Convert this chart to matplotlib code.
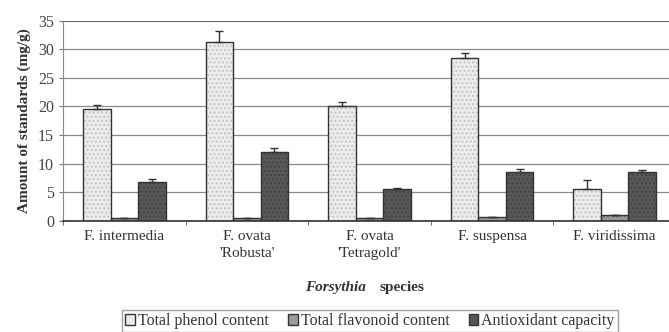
import numpy as np
import matplotlib.pyplot as plt
from matplotlib.patches import Patch

plt.rcParams['font.family'] = ['Liberation Serif', 'DejaVu Serif']

species = ["F. intermedia", "F. ovata\n'Robusta'", "F. ovata\n'Tetragold'",
           "F. suspensa", "F. viridissima"]
phenol = [19.5, 31.2, 20.0, 28.5, 5.5]
phenol_err = [0.7, 2.0, 0.7, 0.8, 1.6]
flavonoid = [0.4, 0.5, 0.5, 0.6, 1.0]
flavonoid_err = [0.0, 0.0, 0.0, 0.0, 0.0]
antiox = [6.8, 12.0, 5.5, 8.6, 8.5]
antiox_err = [0.5, 0.7, 0.15, 0.4, 0.3]

series = [
    ("Total phenol content", phenol, phenol_err, '#ececec', '#c4c4c4'),
    ("Total flavonoid content", flavonoid, flavonoid_err, '#9a9a9a', '#7a7a7a'),
    ("Antioxidant capacity", antiox, antiox_err, '#585858', '#444444'),
]

fig = plt.figure(figsize=(6.69, 3.32), dpi=100)
ax = fig.add_axes([63 / 669, 1 - 220.7 / 332, 613 / 669, 200 / 332])

x = np.arange(len(species))
w = 0.225
for i, (name, vals, err, fc, hc) in enumerate(series):
    pos = x + (i - 1) * w
    ax.bar(pos, vals, w, color=fc, edgecolor=hc, hatch='....', linewidth=0, zorder=2)
    ax.bar(pos, vals, w, fill=False, edgecolor='#333333', linewidth=1.0, zorder=3)
    ax.errorbar(pos, vals, yerr=[np.zeros(len(vals)), err], fmt='none',
                ecolor='#333333', elinewidth=1.0, capsize=3, capthick=1.0, zorder=4)

ax.set_xlim(-0.5, len(species) - 0.5)
ax.set_ylim(0, 35)
ax.set_yticks(range(0, 36, 5))
ax.yaxis.grid(True, color='#8a8a8a', linewidth=0.9)
ax.set_axisbelow(True)
ax.axhline(35, color='#666666', linewidth=1.2, zorder=1)

ax.set_xticks(x)
ax.set_xticklabels(species, fontsize=11, color='#333333', linespacing=1.4)
ax.set_xticks(np.arange(len(species) + 1) - 0.5, minor=True)
ax.tick_params(axis='x', which='major', length=0, pad=7)
ax.tick_params(axis='x', which='minor', length=3, color='#555555')
ax.tick_params(axis='y', length=3, labelsize=11.5, labelcolor='#444444', color='#777777')

for s in ['top', 'right']:
    ax.spines[s].set_visible(False)
ax.spines['left'].set_color('#888888')
ax.spines['bottom'].set_color('#333333')
ax.spines['bottom'].set_linewidth(1.2)

ax.set_ylabel("Amount of standards (mg/g)", fontsize=11, fontweight='bold',
              color='#333333', labelpad=5)

fig.text(366 / 669, 1 - 288 / 332, "Forsythia", ha='right', va='center',
         fontsize=11, fontweight='bold', fontstyle='italic', color='#333333')
fig.text(380 / 669, 1 - 288 / 332, "species", ha='left', va='center',
         fontsize=11, fontweight='bold', color='#333333')

handles = [Patch(facecolor=fc, edgecolor='#333333', label=name)
           for name, _, _, fc, _ in series]
fig.legend(handles=handles, loc='upper center', bbox_to_anchor=(370 / 669, 1 - 302 / 332),
           ncol=3, fontsize=11.5, frameon=True, fancybox=False, edgecolor='#888888',
           handlelength=0.6, handleheight=0.6, handletextpad=0.2, columnspacing=1.2,
           borderpad=0.2, labelcolor='#333333')

fig.savefig('out.png', dpi=100)
